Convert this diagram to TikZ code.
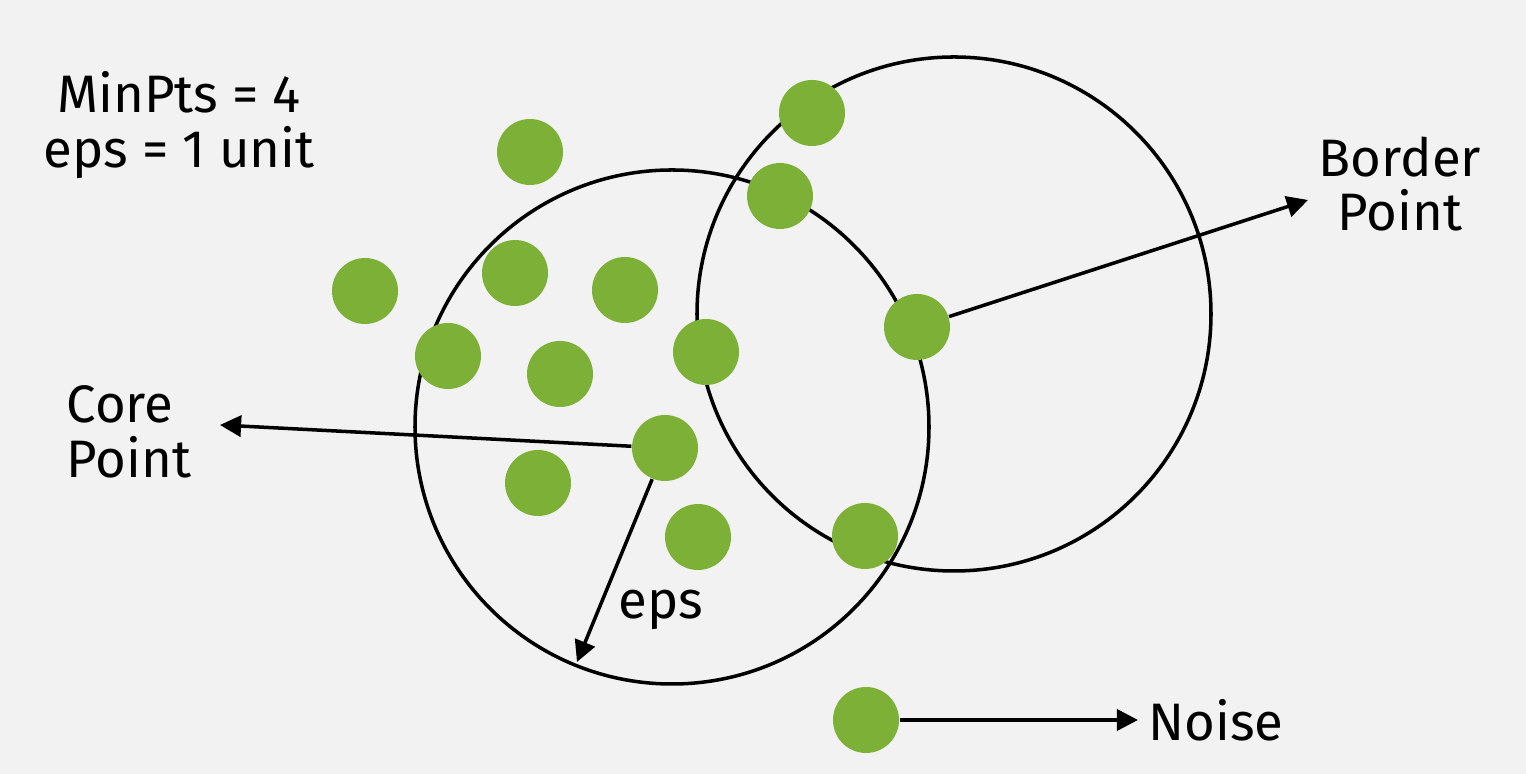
\documentclass[tikz,border=0pt]{standalone}
\usepackage{fontspec}
\setmainfont{Fira Sans}
\usetikzlibrary{positioning,arrows.meta}

\definecolor{ptgreen}{RGB}{125,176,55}
\definecolor{bggray}{RGB}{242,242,242}

\tikzset{
	dot/.style={circle, fill=ptgreen, minimum size=0.66cm, inner sep=0pt},
	ring/.style={line width=1pt, black},
	arr/.style={line width=1pt, -{Triangle[length=6pt,width=6pt]}},
	lbl/.style={font=\fontsize{15}{15.5}\selectfont, inner sep=0pt}
}

\begin{document}
\begin{tikzpicture}
		% Fundo
		\fill[bggray] (0,0) rectangle (15.26,7.74);
		\useasboundingbox (0,0) rectangle (15.26,7.74);
		
		% Vizinhancas eps
		\draw[ring] (6.72,3.47) circle (2.57);
		\draw[ring] (9.54,4.60) circle (2.57);
		
		% Pontos
		\node[dot] (d1) at (5.30,6.22) {};
		\node[dot] (d2) at (8.12,6.61) {};
		\node[dot] (d3) at (7.80,5.78) {};
		\node[dot] (d4) at (3.65,4.83) {};
		\node[dot] (d5) at (5.15,5.01) {};
		\node[dot] (d6) at (6.25,4.84) {};
		\node[dot] (d7) at (4.48,4.18) {};
		\node[dot] (d8) at (5.60,4.00) {};
		\node[dot] (d9) at (7.06,4.22) {};
		\node[dot] (border) at (9.17,4.47) {};
		\node[dot] (core) at (6.65,3.26) {};
		\node[dot] (d10) at (5.38,2.91) {};
		\node[dot] (d11) at (6.98,2.37) {};
		\node[dot] (d12) at (8.65,2.38) {};
		\node[dot] (noise) at (8.66,0.54) {};
		
		% Extremos das setas
		\coordinate (coreend) at (2.20,3.49);
		\coordinate (borderend) at (13.08,5.74);
		\coordinate (epsend) at (5.77,1.12);
		\coordinate (noiseend) at (11.38,0.54);
		
		% Setas
		\draw[arr] (core) -- (coreend);
		\draw[arr] (border) -- (borderend);
		\draw[arr] (core) -- (epsend);
		\draw[arr] (noise) -- (noiseend);
		
		% Rotulos
		\node[lbl, align=center] (params) at (1.79,6.49) {MinPts = 4\\eps = 1 unit};
		\node[lbl, align=left, left=0.28 of coreend, yshift=-0.07cm] (corelbl) {Core\\Point};
		\node[lbl, align=center] (borderlbl) at (14.00,5.90) {Border\\Point};
		\node[lbl, right=0.10 of noiseend] (noiselbl) {Noise};
		\node[lbl] (epslbl) at (6.61,1.64) {eps};
	\end{tikzpicture}
\end{document}
